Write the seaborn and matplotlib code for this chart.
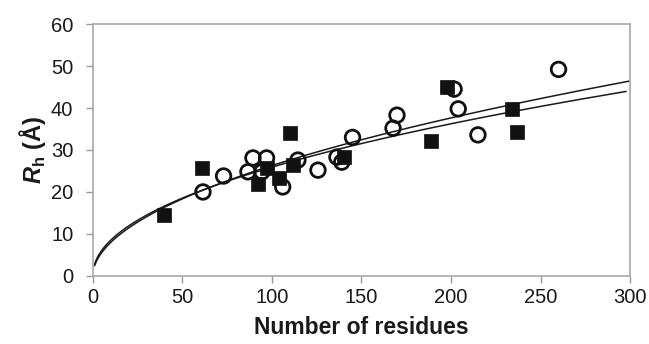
import numpy as np
import pandas as pd
import seaborn as sns
import matplotlib.pyplot as plt

# filled squares
sq_residues = [40, 61, 92, 97, 104, 110, 112, 140, 189, 198, 234, 237]
sq_rh = [14.5, 25.7, 22.0, 25.7, 23.3, 34.0, 26.4, 28.3, 32.1, 45.0, 39.7, 34.3]

# open circles
ci_residues = [61.5, 73, 86.6, 89.4, 94.4, 97, 106, 114.5, 125.7, 136.3, 139, 145,
               167.6, 169.8, 201.7, 204, 215, 260]
ci_rh = [20.0, 23.8, 24.8, 28.1, 24.8, 28.1, 21.2, 27.6, 25.2, 28.3, 27.1, 33.0,
         35.2, 38.3, 44.5, 39.8, 33.6, 49.2]

# power-law fits Rh = a * N^b
fit_upper = (2.42, 0.518)
fit_lower = (2.79, 0.484)

sns.set_style("white")
plt.rcParams['font.family'] = ['Liberation Sans', 'DejaVu Sans']
plt.rcParams['mathtext.fontset'] = 'custom'
plt.rcParams['mathtext.rm'] = 'Liberation Sans'
plt.rcParams['mathtext.bf'] = 'Liberation Sans:bold'
plt.rcParams['mathtext.bfit'] = 'Liberation Sans:italic:bold'

fig = plt.figure(figsize = (6.49, 3.44), dpi = 100)
ax = fig.add_axes([0.143, 0.198, 0.828, 0.732])

n = np.linspace(1, 300, 400)
curves = pd.DataFrame({"n": np.concatenate([n, n[n <= 298]]),
                       "rh": np.concatenate([fit_upper[0] * n ** fit_upper[1],
                                             fit_lower[0] * n[n <= 298] ** fit_lower[1]]),
                       "fit": ["upper"] * len(n) + ["lower"] * int((n <= 298).sum())})
sns.lineplot(data = curves, x = "n", y = "rh", units = "fit", estimator = None,
             color = "#1a1a1a", linewidth = 1.1, ax = ax)

sns.scatterplot(x = sq_residues, y = sq_rh, marker = "s", s = 95, color = "#111111",
                edgecolor = "#111111", linewidth = 0.5, ax = ax, zorder = 3)
sns.scatterplot(x = ci_residues, y = ci_rh, marker = "o", s = 110, facecolor = "none",
                edgecolor = "#111111", linewidth = 2.0, ax = ax, zorder = 4)

ax.set_xlim(0, 300)
ax.set_ylim(0, 60)
ax.set_xticks(range(0, 301, 50))
ax.set_yticks(range(0, 61, 10))
ax.set_xlabel("Number of residues", fontsize = 16.5, fontweight = "bold",
              color = "#1a1a1a", labelpad = 6)
ax.set_ylabel(r"$\mathbfit{R}_\mathbf{h}$ (Å)", fontsize = 17, fontweight = "bold",
              color = "#1a1a1a", labelpad = 2)
ax.tick_params(axis = "both", labelsize = 14.5, labelcolor = "#1a1a1a", direction = "out",
               length = 5, width = 1, color = "#9a9a9a", pad = 4)
ax.tick_params(axis = "y", pad = 9)
ax.xaxis.set_ticks_position('bottom')
ax.yaxis.set_ticks_position('left')
for s in ax.spines.values():
    s.set_color("#a8a8a8")
    s.set_linewidth(1.2)

fig.savefig("out.png", dpi = 100)
